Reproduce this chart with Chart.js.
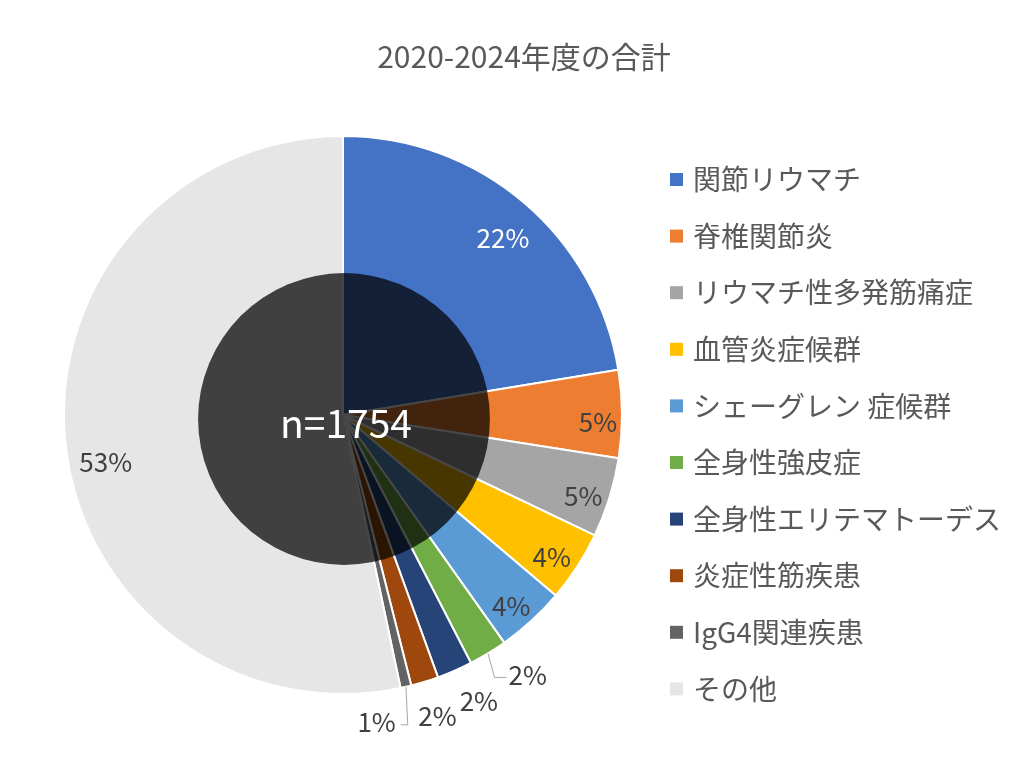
<!DOCTYPE html>
<html>
<head>
<meta charset="utf-8">
<script src="https://cdn.jsdelivr.net/npm/chart.js@4.4.0/dist/chart.umd.min.js"></script>
<style>
  html, body { margin: 0; padding: 0; background: #ffffff; }
  #wrap { width: 1024px; height: 765px; position: relative; }
</style>
</head>
<body>
<div id="wrap"><canvas id="c" width="1024" height="765"></canvas></div>
<script>
// ---- data ----
const titleText = '2020-2024年度の合計';
const totalLabel = 'n=1754';
const categories = [
  '関節リウマチ',
  '脊椎関節炎',
  'リウマチ性多発筋痛症',
  '血管炎症候群',
  'シェーグレン 症候群',
  '全身性強皮症',
  '全身性エリテマトーデス',
  '炎症性筋疾患',
  'IgG4関連疾患',
  'その他'
];
const counts = [393, 89, 81, 72, 70, 39, 36, 28, 11, 935];
const sliceColors = [
  '#4472C4', '#ED7D31', '#A5A5A5', '#FFC000', '#5B9BD5',
  '#70AD47', '#264478', '#9E480E', '#636363', '#E6E6E6'
];

// ---- label styling / placement (relative to each arc) ----
const FONT = "'Noto Sans CJK JP', 'Noto Sans', sans-serif";
const labelStyle = [
  { r: 0.855, d: 1.8,  color: '#FFFFFF' },
  { r: 0.914, d: 1.8,  color: '#404040' },
  { r: 0.909, d: 1.4,  color: '#404040' },
  { r: 0.905, d: 1.3,  color: '#404040' },
  { r: 0.914, d: 1.2,  color: '#404040' },
  { r: 1.143, d: -4.1, color: '#404040', leader: true },
  { r: 1.135, d: -1.8, color: '#404040' },
  { r: 1.130, d: -0.4, color: '#404040' },
  { r: 1.108, d: 6.8,  color: '#404040', leader: true },
  { r: 0.867, d: -5.3, color: '#404040' }
];

const total = counts.reduce((a, b) => a + b, 0);

const decorPlugin = {
  id: 'decor',
  afterDatasetsDraw(chart) {
    const ctx = chart.ctx;
    const meta = chart.getDatasetMeta(0);
    const first = meta.data[0].getProps(['x', 'y', 'outerRadius'], true);
    const cx = first.x, cy = first.y, R = first.outerRadius;

    // dark translucent center disc
    ctx.save();
    ctx.beginPath();
    ctx.arc(cx + 1, cy + 4, R * 0.523, 0, Math.PI * 2);
    ctx.fillStyle = 'rgba(0,0,0,0.72)';
    ctx.fill();
    ctx.restore();

    // center text
    ctx.save();
    ctx.font = '39px ' + FONT;
    ctx.fillStyle = '#FFFFFF';
    ctx.textAlign = 'center';
    ctx.textBaseline = 'middle';
    ctx.fillText(totalLabel, cx + 3, cy + 8);
    ctx.restore();

    // percentage labels
    ctx.save();
    ctx.font = '26px ' + FONT;
    ctx.textAlign = 'center';
    ctx.textBaseline = 'middle';
    meta.data.forEach((arc, i) => {
      const p = arc.getProps(['x', 'y', 'startAngle', 'endAngle', 'outerRadius'], true);
      const mid = (p.startAngle + p.endAngle) / 2;
      const st = labelStyle[i];
      const a = mid + st.d * Math.PI / 180;
      const lx = p.x + Math.cos(a) * p.outerRadius * st.r;
      const ly = p.y + Math.sin(a) * p.outerRadius * st.r;
      const txt = Math.round(counts[i] / total * 100) + '%';
      const w = ctx.measureText(txt).width;
      if (st.leader) {
        const sx = p.x + Math.cos(mid) * p.outerRadius;
        const sy = p.y + Math.sin(mid) * p.outerRadius;
        let ex, ex2;
        if (lx > sx) { ex = lx - w / 2 - 14; ex2 = lx - w / 2 - 2; }
        else { ex = lx + w / 2 + 12; ex2 = lx + w / 2 + 5; }
        const ey = ly + 2.5;
        ctx.beginPath();
        ctx.moveTo(sx, sy);
        ctx.lineTo(ex, ey);
        ctx.lineTo(ex2, ey);
        ctx.strokeStyle = '#A6A6A6';
        ctx.lineWidth = 1;
        ctx.stroke();
      }
      ctx.fillStyle = st.color;
      ctx.fillText(txt, lx, ly);
    });
    ctx.restore();
  },
  afterDraw(chart) {
    const ctx = chart.ctx;
    const area = chart.chartArea;
    // title
    ctx.save();
    ctx.font = '30px ' + FONT;
    ctx.fillStyle = '#595959';
    ctx.textAlign = 'center';
    ctx.textBaseline = 'middle';
    ctx.fillText(titleText, chart.width / 2 + 12, 57);
    ctx.restore();

    // legend
    ctx.save();
    ctx.font = '28px ' + FONT;
    ctx.textBaseline = 'middle';
    ctx.textAlign = 'left';
    const boxX = area.right + 47;
    const startY = area.top + 44.5;
    const step = 56.6;
    const box = 13;
    categories.forEach((name, i) => {
      const y = startY + i * step;
      ctx.fillStyle = sliceColors[i];
      ctx.fillRect(boxX, y - box / 2, box, box);
      ctx.fillStyle = '#595959';
      ctx.fillText(name, boxX + 23, y);
    });
    ctx.restore();
  }
};

new Chart(document.getElementById('c'), {
  type: 'pie',
  data: {
    labels: categories,
    datasets: [{
      data: counts,
      backgroundColor: sliceColors,
      borderColor: '#FFFFFF',
      borderWidth: 2
    }]
  },
  options: {
    responsive: false,
    devicePixelRatio: 1,
    animation: false,
    layout: { padding: { left: 63, right: 401, top: 135, bottom: 70 } },
    plugins: {
      legend: { display: false },
      title: { display: false },
      tooltip: { enabled: false }
    }
  },
  plugins: [decorPlugin]
});
</script>
</body>
</html>
